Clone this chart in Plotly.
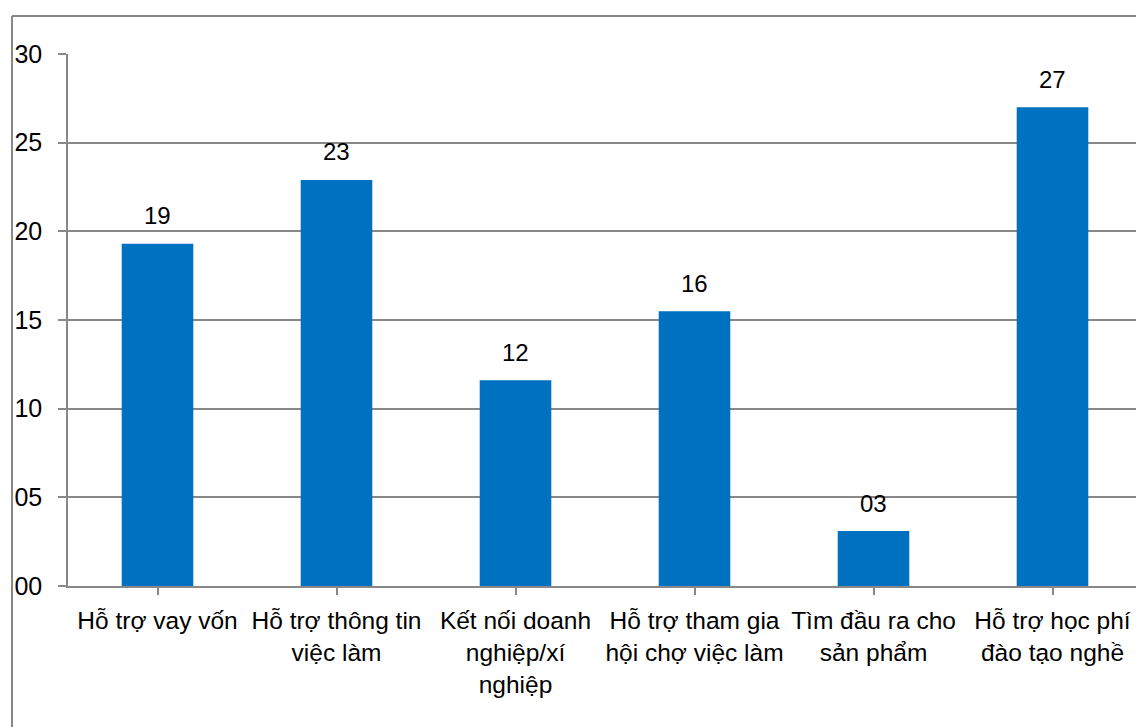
import plotly.graph_objects as go

# Survey results: number of responses per support type
categories = [
    "Hỗ trợ vay vốn",
    "Hỗ trợ thông tin<br>việc làm",
    "Kết nối doanh<br>nghiệp/xí<br>nghiệp",
    "Hỗ trợ tham gia<br>hội chợ việc làm",
    "Tìm đầu ra cho<br>sản phẩm",
    "Hỗ trợ học phí<br>đào tạo nghề",
]
values = [19.3, 22.9, 11.6, 15.5, 3.1, 27.0]
y_ticks = [0, 5, 10, 15, 20, 25, 30]

W, H = 1136, 727
M_L, M_R, M_T, M_B = 68, 0, 54, 141
GRID = "#888888"
FONT = "Liberation Sans, Arial, sans-serif"

plot_w = W - M_L - M_R
plot_h = H - M_T - M_B
cat_px = 179  # width of one category slot
x_max = -0.5 + plot_w / cat_px


def px_to_paper_x(px):
    return (px - M_L) / plot_w


def px_to_paper_y(py):
    return (H - M_B - py) / plot_h


fig = go.Figure(
    go.Bar(
        x=list(range(len(categories))),
        y=values,
        width=0.4,
        marker=dict(color="#0070C0", line=dict(width=0)),
        hoverinfo="skip",
    )
)

# value labels above each bar
for i, v in enumerate(values):
    fig.add_annotation(
        x=i, y=v, text=f"{round(v):02d}", showarrow=False,
        yanchor="middle", yshift=28,
        font=dict(family=FONT, size=24, color="#000000"),
    )

# outer chart frame (left and top edges)
fig.add_shape(
    type="line", xref="paper", yref="paper",
    x0=px_to_paper_x(12), x1=px_to_paper_x(12),
    y0=px_to_paper_y(H + 5), y1=px_to_paper_y(16),
    line=dict(color=GRID, width=2),
)
fig.add_shape(
    type="line", xref="paper", yref="paper",
    x0=px_to_paper_x(12), x1=px_to_paper_x(W + 5),
    y0=px_to_paper_y(16), y1=px_to_paper_y(16),
    line=dict(color=GRID, width=2),
)

fig.update_layout(
    width=W, height=H,
    margin=dict(l=M_L, r=M_R, t=M_T, b=M_B, pad=0),
    paper_bgcolor="white", plot_bgcolor="white",
    showlegend=False,
    font=dict(family=FONT, size=25, color="#000000"),
    xaxis=dict(
        tickmode="array",
        tickvals=list(range(len(categories))),
        ticktext=categories,
        range=[-0.5, x_max],
        tickson="boundaries",
        ticks="outside", ticklen=7, tickcolor=GRID, tickwidth=1.5,
        showline=True, linecolor=GRID, linewidth=1.5,
        showgrid=False, zeroline=False,
        ticklabelstandoff=5,
        tickfont=dict(family=FONT, size=24.5, color="#000000"),
    ),
    yaxis=dict(
        range=[0, 30],
        tickmode="array",
        tickvals=y_ticks,
        ticktext=[f"{t:02d}" for t in y_ticks],
        ticks="outside", ticklen=8, tickcolor=GRID, tickwidth=1.5,
        showline=True, linecolor=GRID, linewidth=1.5,
        showgrid=True, gridcolor=GRID, gridwidth=1.5,
        zeroline=False,
        ticklabelstandoff=11,
        tickfont=dict(family=FONT, size=25, color="#000000"),
    ),
)

fig.write_html("out.html")
